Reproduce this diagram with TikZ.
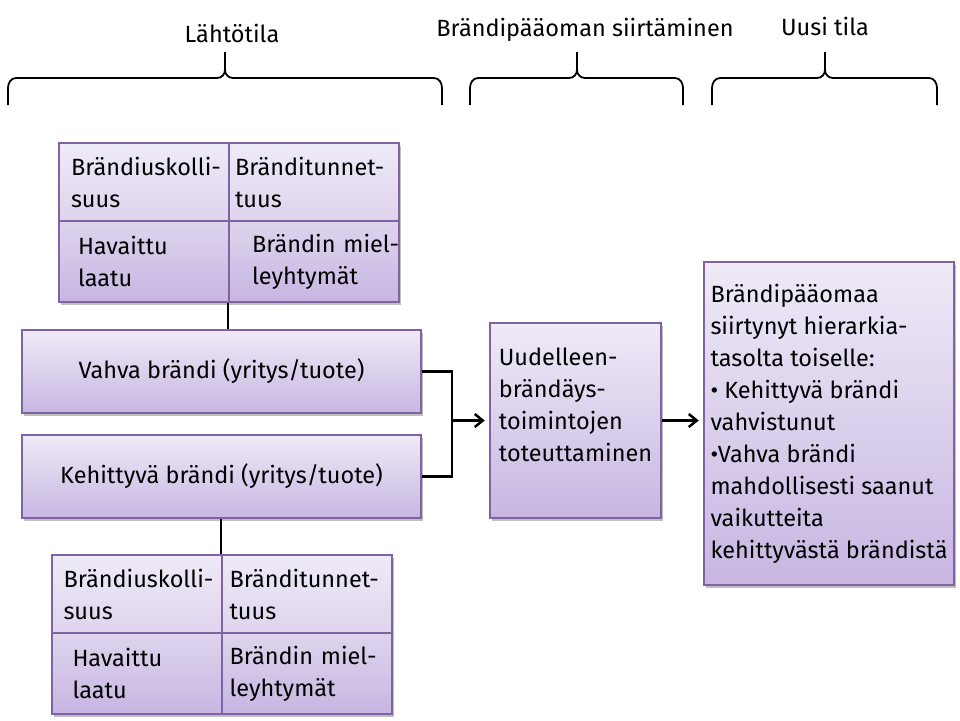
\documentclass[tikz,border=0pt]{standalone}
\usepackage{fontspec}
\setmainfont{Fira Sans}[Ligatures=NoCommon]
\usetikzlibrary{arrows.meta,shadows}
\definecolor{boxline}{RGB}{128,100,162}
\definecolor{boxtop}{RGB}{239,234,247}
\definecolor{boxmid}{RGB}{222,212,237}
\definecolor{boxbot}{RGB}{199,182,226}
\hyphenpenalty=10000
\exhyphenpenalty=10000

\begin{document}
\begin{tikzpicture}[x=1pt,y=-1pt,font=\fontsize{23.5}{32}\selectfont]
\tikzset{box/.style = {draw=boxline,line width=2.5pt,top color=boxtop,bottom color=boxbot,inner sep=0pt,
  drop shadow={shadow xshift=2pt,shadow yshift=-2.5pt,opacity=0.25,fill=black}}}
\tikzset{cell/.style = {box,minimum width=170pt,text width=#1,align=left}}
\tikzset{upper/.style = {top color=boxtop,bottom color=boxmid,minimum height=78pt}}
\tikzset{lower/.style = {top color=boxmid,bottom color=boxbot,minimum height=81pt}}
\tikzset{edge/.style = {line width=2.5pt}}
\tikzset{arrow/.style = {edge,-{Straight Barb[length=8pt,width=13pt]},shorten >=4pt}}
\tikzset{brace/.style = {line width=1.8pt,line join=round}}
\tikzset{head/.style = {anchor=base}}
\useasboundingbox (0,0) rectangle (960,720);
% headings
\node[head] (h1) at (232,42) {Lähtötila};
\node[head] (h2) at (585,36) {Brändipääoman siirtäminen};
\node[head] (h3) at (825,35) {Uusi tila};
\foreach \a/\m/\b in {8/225/442, 470/577/683, 712/825/937}
  \draw[brace] (\a,105) -- (\a,88) to[out=90,in=180] ({\a+8},78) -- ({\m-8},78)
    to[out=0,in=-90] (\m,70) -- (\m,52) (\m,70) to[out=-90,in=180] ({\m+8},78)
    -- ({\b-8},78) to[out=0,in=90] (\b,88) -- (\b,105);
% upper grid
\node[cell=146pt,upper] (a11) at (144,182) {Brändiuskolli-\\suus};
\node[cell=158pt,upper] (a12) at (314,182) {Bränditunnet-\\tuus};
\node[cell=132pt,lower] (a21) at (144,261.5) {Havaittu\\laatu};
\node[cell=124pt,lower] (a22) at (314,261.5) {\mbox{Brändin miel-}\\leyhtymät};
% brands
\node[box,minimum width=399pt,minimum height=83pt] (vahva) at (221.5,371.5) {Vahva brändi (yritys/tuote)};
\node[box,minimum width=399pt,minimum height=83pt] (kehit) at (221.5,476.5) {Kehittyvä brändi (yritys/tuote)};
% lower grid
\node[cell=147pt,upper] (b11) at (137,594) {Brändiuskolli-\\suus};
\node[cell=155pt,upper] (b12) at (307,594) {Bränditunnet-\\tuus};
\node[cell=129pt,lower] (b21) at (137,673.5) {Havaittu\\laatu};
\node[cell=155pt,lower] (b22) at (307,673.5) {\mbox{Brändin miel-}\\leyhtymät};
% transfer and result
\node[box,minimum width=171pt,minimum height=195pt,align=left] (toim) at (575.5,420.5)
  {Uudelleen-\\brändäys-\\toimintojen\\toteuttaminen\\\mbox{}};
\node[box,minimum width=250pt,minimum height=323pt,align=left] (uusi) at (829,423.5)
  {Brändipääomaa\\siirtynyt hierarkia-\\tasolta toiselle:\\• Kehittyvä brändi\\vahvistunut\\•Vahva brändi\\mahdollisesti saanut\\vaikutteita\\kehittyvästä brändistä};
%edges
\coordinate (join) at (452,420.5);
\draw[edge] (a22.south west) -- (a22.south west |- vahva.north);
\draw[edge] (kehit.south -| b12.north west) -- (b12.north west);
\draw[edge] (vahva.east) -| (join) |- (kehit.east);
\draw[arrow] (join) -- (toim.west);
\draw[arrow] (toim.east) -- (toim.east -| uusi.west);
\end{tikzpicture}
\end{document}
